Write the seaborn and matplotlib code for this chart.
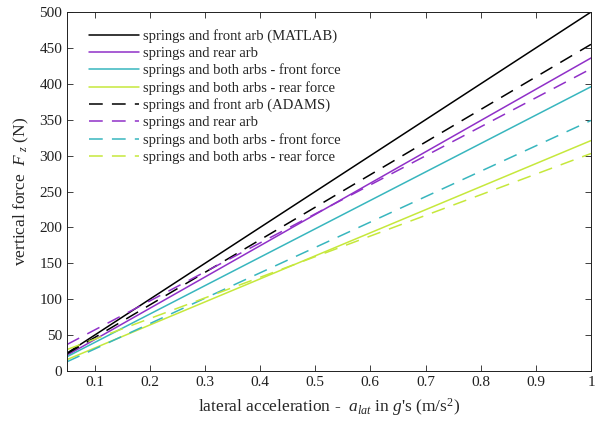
import pandas as pd
import matplotlib
matplotlib.use('Agg')
import matplotlib.pyplot as plt
import seaborn as sns

# ---- data (straight lines, two end points) ----
x_lat = [0.05, 1.0]

matlab_front = [25, 500]
matlab_rear = [22, 436]
matlab_both_front = [20, 396]
matlab_both_rear = [16, 321]

adams_front = [24, 455]
adams_rear = [37, 421]
adams_both_front = [13, 349]
adams_both_rear = [30, 303]

labels = ['springs and front arb (MATLAB)', 'springs and rear arb',
          'springs and both arbs - front force', 'springs and both arbs - rear force',
          'springs and front arb (ADAMS)', 'springs and rear arb',
          'springs and both arbs - front force', 'springs and both arbs - rear force']
series = [matlab_front, matlab_rear, matlab_both_front, matlab_both_rear,
          adams_front, adams_rear, adams_both_front, adams_both_rear]
colors = ['black', '#9030C8', '#38B6BE', '#C6E83C'] * 2
dashed = [False] * 4 + [True] * 4

sns.set_style('ticks')
plt.rcParams['font.family'] = ['Liberation Serif', 'DejaVu Serif']
plt.rcParams['mathtext.fontset'] = 'custom'
plt.rcParams['mathtext.rm'] = 'Liberation Serif'
plt.rcParams['mathtext.it'] = 'Liberation Serif:italic'
plt.rcParams['xtick.direction'] = 'in'
plt.rcParams['ytick.direction'] = 'in'

fig = plt.figure(figsize=(5.96, 4.30), dpi=100)
ax = fig.add_axes([0.1124, 0.137, 0.8792, 0.835])

for lab, vals, col, dsh in zip(labels, series, colors, dashed):
    df = pd.DataFrame({'a_lat': x_lat, 'Fz': vals})
    ls = (0, (9, 6)) if dsh else '-'
    sns.lineplot(data=df, x='a_lat', y='Fz', ax=ax, color=col, lw=1.1,
                 linestyle=ls, label=lab)

ax.set_xlim(0.05, 1)
ax.set_ylim(0, 500)
ax.set_xticks([0.1, 0.2, 0.3, 0.4, 0.5, 0.6, 0.7, 0.8, 0.9, 1])
ax.set_xticklabels(['0.1', '0.2', '0.3', '0.4', '0.5', '0.6', '0.7', '0.8', '0.9', '1'])
ax.set_yticks(range(0, 501, 50))
ax.tick_params(labelsize=11, top=True, right=True, length=4, width=0.6, colors='#202020')
for sp in ax.spines.values():
    sp.set_linewidth(0.7)
    sp.set_color('#202020')

ax.set_xlabel("lateral acceleration -  $a_{lat}$ in $g$'s (m/s$^2$)", fontsize=12.5, labelpad=5)
ax.set_ylabel("vertical force  $F_{\\ z}$ (N)", fontsize=12.5, labelpad=6)

ax.legend(loc='upper left', frameon=False, fontsize=10.5, handlelength=3.4,
          handletextpad=0.3, labelspacing=0.25, borderaxespad=0.4,
          bbox_to_anchor=(0.02, 0.985))

fig.savefig('out.png', dpi=100)
